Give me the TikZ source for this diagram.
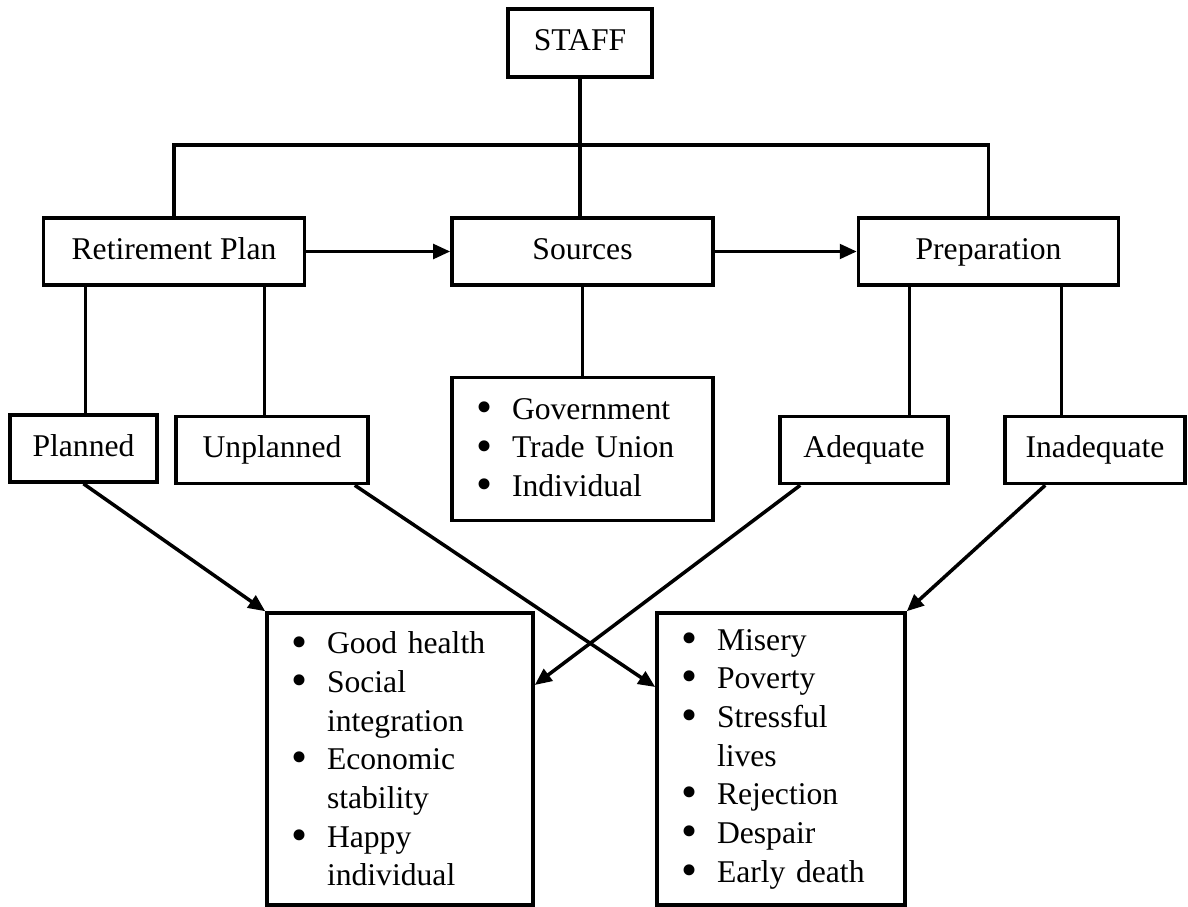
\documentclass[tikz,border=0pt]{standalone}
\usepackage{fontspec}
\setmainfont{Liberation Serif}
\usetikzlibrary{positioning,calc,arrows.meta}
\tikzset{
  >={Triangle[length=3.4mm,width=2.9mm]},
  my frame/.style={
    draw,
    line width=2pt,
    rectangle,
    inner sep=0pt,
    font=\fontsize{18}{22}\selectfont
  },
  my box/.style={
    my frame,
    minimum height=1.34cm,
    text height=12.5pt,
    text depth=3.8pt
  },
  my list/.style={
    my frame,
    align=left,
    inner xsep=4.8mm,
    inner ysep=1mm
  },
  my link/.style={line width=2pt}
}
\newcommand{\bul}{\makebox[7.2mm][l]{\raisebox{-0.1em}{\scalebox{1.45}{\textbullet}}}}
\newcommand{\gap}{\hspace*{7.2mm}}

\begin{document}
\begin{tikzpicture}
\useasboundingbox (0,0) rectangle (23.76,-18.14);
% top rows
\node (sources) [my box,minimum width=5.22cm] at (11.65,-5.03) {Sources};
\node (retire)  [my box,minimum width=5.22cm,left=2.88cm of sources] {Retirement Plan};
\node (prep)    [my box,minimum width=5.2cm,right=2.84cm of sources] {Preparation};
\node (staff)   [my box,minimum width=2.88cm,minimum height=1.36cm] at (11.6,-0.86) {STAFF};
\node (planned)   [my box,minimum width=2.94cm] at (1.67,-8.97) {Planned};
\node (unplanned) [my box,minimum width=3.84cm] at (5.44,-9.0) {Unplanned};
\node (adequate)  [my box,minimum width=3.36cm] at (17.28,-9.0) {Adequate};
\node (inadequate)[my box,minimum width=3.6cm] at (21.9,-9.0) {Inadequate};
\node (srclist) [my list,text width=4.26cm,minimum height=2.86cm,below=1.78cm of sources]
  {\bul Government\\
   \bul Trade Union\\
   \bul Individual};
% outcome boxes
\node (good) [my list,text width=4.36cm,minimum height=5.84cm] at (8.0,-15.18)
  {\bul Good health\\
   \bul Social\\
   \gap integration\\
   \bul Economic\\
   \gap stability\\
   \bul Happy\\
   \gap individual};
\node (bad) [my list,text width=4.0cm,minimum height=5.84cm] at (15.62,-15.18)
  {\bul Misery\\
   \bul Poverty\\
   \bul Stressful\\
   \gap lives\\
   \bul Rejection\\
   \bul Despair\\
   \bul Early death};
% tree lines
\coordinate (bus) at (11.6,-2.9);
\coordinate (r1) at ($(retire.south west)!0.165!(retire.south east)$);
\coordinate (r2) at ($(retire.south west)!0.843!(retire.south east)$);
\coordinate (p1) at ($(prep.south west)!0.2!(prep.south east)$);
\coordinate (p2) at ($(prep.south west)!0.777!(prep.south east)$);
\draw[my link] (staff.south) -- (staff.south |- sources.north);
\draw[my link] (retire.north) |- (bus) -| (prep.north);
\draw[my link] (sources.south) -- (srclist.north);
\draw[my link] (r1) -- (r1 |- planned.north);
\draw[my link] (r2) -- (r2 |- unplanned.north);
\draw[my link] (p1) -- (p1 |- adequate.north);
\draw[my link] (p2) -- (p2 |- inadequate.north);
% arrows
\draw[my link,->] (retire.east) -- (retire.east -| sources.west);
\draw[my link,->] (sources.east) -- (sources.east -| prep.west);
\draw[my link,->] (planned.south) -- (good.north west);
\draw[my link,->] ([xshift=-3mm]unplanned.south east) -- ([yshift=1.44cm]bad.west);
\draw[my link,->] ([xshift=4.4mm]adequate.south west) -- ([yshift=1.48cm]good.east);
\draw[my link,->] ([xshift=8.4mm]inadequate.south west) -- (bad.north east);
\end{tikzpicture}
\end{document}
